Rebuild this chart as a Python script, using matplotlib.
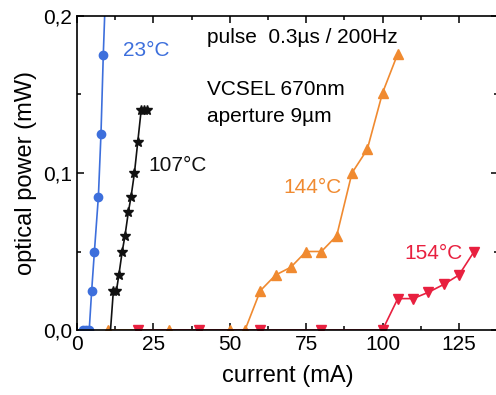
import numpy as np
import matplotlib
matplotlib.use('Agg')
import matplotlib.pyplot as plt
from matplotlib.ticker import MultipleLocator, FuncFormatter

plt.rcParams['font.family'] = ['Liberation Sans', 'DejaVu Sans']

# ── data ──────────────────────────────────────────────────
i_23 = [2, 3, 4, 4.8, 5.7, 7.0, 7.85, 8.6, 9.6]
p_23 = [0, 0, 0, 0.025, 0.05, 0.085, 0.125, 0.175, 0.23]

i_107 = [10.6, 11.9, 12.9, 13.7, 14.8, 15.7, 16.8, 17.7, 18.8, 19.9, 21.0, 22.0, 23.0]
p_107 = [-0.01, 0.025, 0.025, 0.035, 0.05, 0.06, 0.075, 0.085, 0.10, 0.12, 0.14, 0.14, 0.14]

i_144 = [10, 20, 30, 40, 50, 55, 60, 65, 70, 75, 80, 85, 90, 95, 100, 105]
p_144 = [0, 0, 0, 0, 0, 0, 0.025, 0.035, 0.040, 0.050, 0.050, 0.060, 0.100, 0.115, 0.151, 0.176]

i_154 = [20, 40, 60, 80, 100, 105, 110, 115, 120, 125, 130]
p_154 = [0, 0, 0, 0, 0, 0.020, 0.020, 0.024, 0.029, 0.035, 0.050]

c_blue = '#3d6fdc'
c_black = '#111111'
c_orange = '#f08a30'
c_red = '#e8203f'

fig = plt.figure(figsize=(4.96, 3.95), dpi=100)
ax = fig.add_axes([77 / 496, 1 - 330 / 395, 421 / 496, 314 / 395])

ax.plot(i_144, p_144, '-^', color=c_orange, ms=7, lw=1.2, zorder=3)
ax.plot(i_154, p_154, '-v', color=c_red, ms=7, lw=1.2, zorder=4)
ax.plot(i_107, p_107, '-*', color=c_black, ms=7, lw=1.2, zorder=5)
ax.plot(i_23, p_23, '-o', color=c_blue, ms=6, lw=1.2, zorder=6)

ax.set_xlim(0, 137.8)
ax.set_ylim(0, 0.2)
ax.xaxis.set_major_locator(MultipleLocator(25))
ax.xaxis.set_minor_locator(MultipleLocator(12.5))
ax.yaxis.set_major_locator(MultipleLocator(0.1))
ax.yaxis.set_minor_locator(MultipleLocator(0.05))
ax.yaxis.set_major_formatter(FuncFormatter(lambda v, p: f'{v:.1f}'.replace('.', ',')))
ax.tick_params(which='both', direction='in', top=True, right=True, labelsize=15, width=1.1)
ax.tick_params(which='major', length=5)
ax.tick_params(which='minor', length=3)
for s in ax.spines.values():
    s.set_linewidth(1.2)
    s.set_zorder(10)

ax.set_xlabel('current (mA)', fontsize=17, labelpad=8)
ax.set_ylabel('optical power (mW)', fontsize=17, labelpad=4)

ax.text(15.0, 0.178, '23°C', color=c_blue, fontsize=15, va='center')
ax.text(23.2, 0.105, '107°C', color=c_black, fontsize=15, va='center')
ax.text(67.4, 0.091, '144°C', color=c_orange, fontsize=15, va='center')
ax.text(107.3, 0.049, '154°C', color=c_red, fontsize=15, va='center')
ax.text(42.5, 0.186, 'pulse  0.3µs / 200Hz', fontsize=15, va='center')
ax.text(42.5, 0.1529, 'VCSEL 670nm', fontsize=15, va='center')
ax.text(42.5, 0.1357, 'aperture 9µm', fontsize=15, va='center')

fig.savefig('out.png', dpi=100)
